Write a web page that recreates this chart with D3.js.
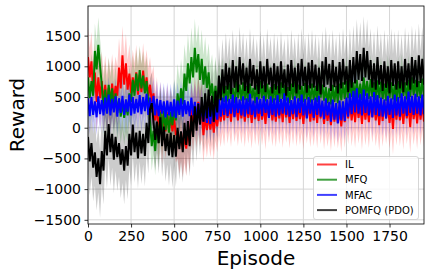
<!DOCTYPE html>
<html>
<head>
<meta charset="utf-8">
<script src="https://cdn.jsdelivr.net/npm/d3@7"></script>
<style>
  body { margin: 0; background: #fff; }
  svg { display: block; font-family: "DejaVu Sans", sans-serif; }
</style>
</head>
<body>
<svg id="chart" width="429" height="276"></svg>
<script>
// episodes sampled every 10
var episodes = d3.range(0, 1951, 10);

var ilValues = [
  1150,820,1080,560,900,420,820,480,760,400,
  700,380,650,420,720,450,680,520,980,640,
  1180,700,1050,620,880,560,820,600,900,540,
  860,580,930,600,820,520,700,420,560,120,
  380,-80,300,-150,220,-60,250,-20,180,-60,
  150,-120,-50,-300,-80,-360,-120,-340,-20,-280,
  300,60,380,120,420,150,260,-120,200,-40,
  220,-30,180,-80,240,20,300,100,350,120,
  420,160,380,100,450,180,360,120,400,150,
  380,100,420,160,350,80,410,140,380,110,
  400,130,360,60,420,170,390,120,350,100,
  410,150,380,90,430,170,360,80,400,140,
  420,110,380,140,350,60,410,160,390,100,
  360,120,400,80,420,150,380,60,350,110,
  320,40,380,100,350,80,300,20,360,90,
  400,150,430,120,380,90,420,160,390,60,
  410,130,380,90,440,170,400,120,360,40,
  390,110,420,150,380,80,350,-20,410,130,
  400,120,370,60,420,150,380,10,410,140,
  380,70,420,130,390,100
];

var mfqValues = [
  820,480,760,520,1250,950,1350,1000,700,300,
  620,260,700,380,640,300,560,240,460,180,
  420,160,380,200,560,420,780,520,880,600,
  940,640,850,560,760,420,100,-300,-50,-380,
  80,-250,250,-60,280,-40,220,-80,260,40,
  310,120,560,300,640,380,880,600,1050,720,
  1150,820,1300,900,1200,780,1120,700,1000,650,
  900,520,720,400,680,380,700,450,720,420,
  680,430,720,470,650,400,760,480,700,440,
  740,450,680,420,720,480,650,400,700,460,
  760,480,690,430,720,470,660,410,710,450,
  680,420,740,470,700,440,660,400,720,460,
  750,480,700,430,680,420,730,460,690,410,
  720,450,680,420,760,490,700,440,660,400,
  640,380,700,420,680,400,720,450,740,470,
  760,480,800,500,740,460,780,490,720,450,
  820,520,760,470,790,500,740,450,770,480,
  750,470,720,440,780,490,740,460,700,430,
  760,480,800,520,740,460,780,500,820,530,
  780,500,760,480,800,510
];

var mfacValues = [
  480,190,500,210,430,170,510,220,450,200,
  490,230,540,200,470,250,510,180,480,240,
  520,210,460,260,540,200,500,230,470,250,
  530,220,500,270,550,210,490,250,520,200,
  470,190,450,230,430,170,440,200,420,180,
  460,160,440,210,480,180,450,220,430,190,
  490,200,420,150,400,110,360,100,370,80,
  340,60,380,90,350,130,460,180,490,210,
  520,190,470,230,540,170,500,240,460,200,
  510,180,480,220,550,210,440,170,500,230,
  470,190,520,240,460,160,510,210,480,180,
  530,200,470,230,560,210,490,180,450,220,
  510,170,480,240,540,200,470,150,500,230,
  460,160,490,210,520,180,440,140,480,200,
  420,100,460,130,400,70,440,120,430,110,
  490,180,560,220,600,250,640,230,550,200,
  620,240,560,200,510,170,580,210,530,190,
  490,180,460,150,520,210,480,160,540,200,
  500,180,560,230,510,190,590,240,520,210,
  550,230,510,200,540,220
];

var pomfqValues = [
  -150,-550,-250,-650,-400,-800,-500,-920,-380,-700,
  -50,-450,60,-400,-100,-520,-150,-480,-250,-600,
  -350,-700,-300,-620,-100,-450,50,-400,-80,-500,
  -50,-420,-100,-460,80,-250,300,400,100,-200,
  100,-250,170,-300,20,-380,-100,-450,-80,-480,
  -120,-470,0,-350,-60,-400,80,-280,110,-300,
  200,-150,350,-50,390,50,500,100,560,150,
  620,180,520,100,600,250,850,450,950,560,
  1050,620,980,550,1100,650,1000,580,1150,700,
  1050,600,980,560,1120,680,1020,620,950,550,
  1080,640,1000,580,1120,700,980,560,1050,620,
  1000,560,1080,650,950,520,1030,600,1100,660,
  980,560,1050,620,1120,680,990,570,1060,640,
  1100,650,1030,600,980,540,1080,660,1150,700,
  1040,600,1100,660,990,560,1070,640,1120,700,
  1000,580,1100,650,1150,720,1250,780,1200,760,
  1300,820,1250,780,1100,650,1050,620,1150,700,
  1020,600,1080,650,1000,560,1100,680,1050,620,
  1080,640,1000,580,1120,690,1050,620,1150,720,
  1100,660,1180,730,1120,700
];

// standard deviation per block of 250 episodes
var ilStd = [480, 450, 450, 420, 420, 420, 420, 420];
var mfqStd = [450, 400, 480, 420, 400, 400, 400, 400];
var mfacStd = [300, 300, 300, 300, 320, 320, 320, 320];
var pomfqStd = [550, 500, 500, 500, 500, 500, 520, 520];

var seriesNames = ['IL', 'MFQ', 'MFAC', 'POMFQ (PDO)'];
var seriesColors = ['#ff0000', '#008000', '#0000ff', '#000000'];
var xTicks = [0, 250, 500, 750, 1000, 1250, 1500, 1750];
var yTicks = [-1500, -1000, -500, 0, 500, 1000, 1500];

var series = [
  { name: seriesNames[0], color: seriesColors[0], values: ilValues, std: ilStd },
  { name: seriesNames[1], color: seriesColors[1], values: mfqValues, std: mfqStd },
  { name: seriesNames[2], color: seriesColors[2], values: mfacValues, std: mfacStd },
  { name: seriesNames[3], color: seriesColors[3], values: pomfqValues, std: pomfqStd }
];

var svg = d3.select('#chart');
var plotL = 88, plotR = 424, plotT = 6, plotB = 224;

var x = d3.scaleLinear().domain([0, 1950]).range([plotL, plotR]);
var y = d3.scaleLinear().domain([-1568, 1982]).range([plotB, plotT]);

// grid
svg.append('g')
    .selectAll('line')
    .data(xTicks)
    .enter().append('line')
    .attr('x1', function(d) { return x(d); })
    .attr('x2', function(d) { return x(d); })
    .attr('y1', plotT)
    .attr('y2', plotB)
    .attr('stroke', '#d6d6d6')
    .attr('stroke-width', 1);
svg.append('g')
    .selectAll('line')
    .data(yTicks)
    .enter().append('line')
    .attr('x1', plotL)
    .attr('x2', plotR)
    .attr('y1', function(d) { return y(d); })
    .attr('y2', function(d) { return y(d); })
    .attr('stroke', '#d6d6d6')
    .attr('stroke-width', 1);

svg.append('clipPath').attr('id', 'clip')
    .append('rect')
    .attr('x', plotL).attr('y', plotT)
    .attr('width', plotR - plotL).attr('height', plotB - plotT);

var plot = svg.append('g').attr('clip-path', 'url(#clip)');

var stdAt = function(s, i) {
    var block = Math.min(Math.floor(episodes[i] / 250), s.std.length - 1);
    return s.std[block];
};

// shaded bands first
series.forEach(function(s) {
    var area = d3.area()
        .x(function(d, i) { return x(episodes[i]); })
        .y0(function(d, i) { return y(d - stdAt(s, i)); })
        .y1(function(d, i) { return y(d + stdAt(s, i)); });
    plot.append('path')
        .datum(s.values)
        .attr('d', area)
        .attr('fill', s.color)
        .attr('fill-opacity', 0.2)
        .attr('stroke', 'none');
});

// lines on top
series.forEach(function(s) {
    var line = d3.line()
        .x(function(d, i) { return x(episodes[i]); })
        .y(function(d) { return y(d); });
    plot.append('path')
        .datum(s.values)
        .attr('d', line)
        .attr('fill', 'none')
        .attr('stroke', s.color)
        .attr('stroke-width', 2)
        .attr('stroke-linejoin', 'miter');
});

// axes
var fmt = d3.format('d');
var xAxis = svg.append('g')
    .attr('transform', 'translate(0,' + plotB + ')')
    .call(d3.axisBottom(x).tickValues(xTicks).tickSize(3.5).tickPadding(3.5).tickFormat(fmt));
var yAxis = svg.append('g')
    .attr('transform', 'translate(' + plotL + ',0)')
    .call(d3.axisLeft(y).tickValues(yTicks).tickSize(3.5).tickPadding(3.5).tickFormat(fmt));
[xAxis, yAxis].forEach(function(a) {
    a.select('.domain').remove();
    a.selectAll('text').attr('font-size', 14).attr('fill', '#000')
        .attr('font-family', '"DejaVu Sans", sans-serif');
    a.selectAll('line').attr('stroke', '#000').attr('stroke-width', 0.8);
});

// frame
svg.append('rect')
    .attr('x', plotL).attr('y', plotT)
    .attr('width', plotR - plotL).attr('height', plotB - plotT)
    .attr('fill', 'none')
    .attr('stroke', '#000')
    .attr('stroke-width', 0.8);

// axis labels
svg.append('text')
    .attr('x', (plotL + plotR) / 2)
    .attr('y', 265)
    .attr('text-anchor', 'middle')
    .attr('font-size', 20)
    .text('Episode');
svg.append('text')
    .attr('transform', 'translate(24,' + ((plotT + plotB) / 2) + ') rotate(-90)')
    .attr('text-anchor', 'middle')
    .attr('font-size', 20)
    .text('Reward');

// legend
var legend = svg.append('g');
legend.append('rect')
    .attr('x', 313.5).attr('y', 156.5)
    .attr('width', 105).attr('height', 63)
    .attr('rx', 2.5)
    .attr('fill', '#fff').attr('fill-opacity', 0.8)
    .attr('stroke', '#cccccc').attr('stroke-width', 0.8);
var rows = legend.selectAll('g.row')
    .data(series)
    .enter().append('g')
    .attr('transform', function(d, i) { return 'translate(0,' + (164.5 + i * 15.2) + ')'; });
rows.append('line')
    .attr('x1', 317).attr('x2', 337)
    .attr('y1', 0).attr('y2', 0)
    .attr('stroke', function(d) { return d.color; })
    .attr('stroke-opacity', 0.75)
    .attr('stroke-width', 2);
rows.append('text')
    .attr('x', 345)
    .attr('y', 3.6)
    .attr('font-size', 10)
    .text(function(d) { return d.name; });
</script>
</body>
</html>
